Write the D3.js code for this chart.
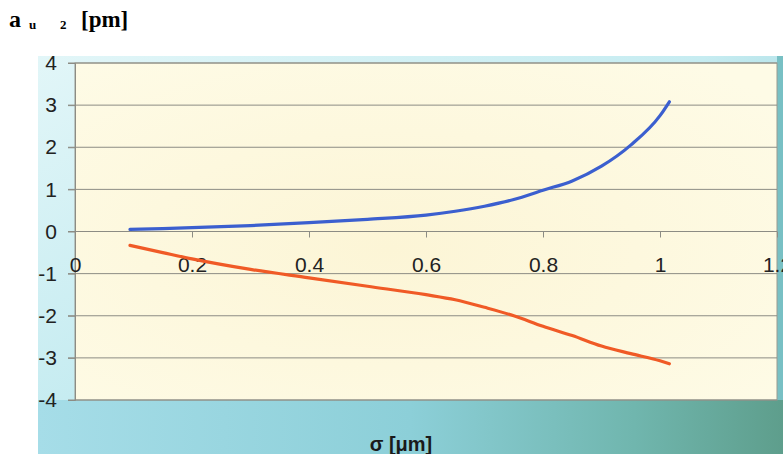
<!DOCTYPE html>
<html>
<head>
<meta charset="utf-8">
<script src="https://cdn.jsdelivr.net/npm/d3@7/dist/d3.min.js"></script>
<style>
  html, body { margin: 0; padding: 0; background: #ffffff; }
  svg { display: block; }
</style>
</head>
<body>
<div id="chart"></div>
<script>
// sigma values (µm) and the two coefficient curves (pm)
const sigma      = [0.094, 0.15, 0.2, 0.3, 0.4, 0.5, 0.6, 0.65, 0.7, 0.75, 0.8, 0.85, 0.9, 0.95, 1.0, 1.016];
const upperCurve = [0.05, 0.07, 0.09, 0.14, 0.21, 0.29, 0.39, 0.48, 0.6, 0.76, 0.98, 1.2, 1.55, 2.05, 2.75, 3.08];
const lowerCurve = [-0.33, -0.5, -0.65, -0.9, -1.1, -1.3, -1.5, -1.62, -1.8, -2.0, -2.25, -2.47, -2.72, -2.9, -3.07, -3.14];
const xTicks = [0, 0.2, 0.4, 0.6, 0.8, 1, 1.2];
const yTicks = [-4, -3, -2, -1, 0, 1, 2, 3, 4];

const W = 783, H = 454;
const plot = { left: 75, right: 777, top: 63, bottom: 400 };

const svg = d3.select("#chart").append("svg")
  .attr("width", W).attr("height", H);

const defs = svg.append("defs");
const bg = defs.append("linearGradient").attr("id", "bgGrad")
  .attr("x1", "0").attr("y1", "0").attr("x2", "1").attr("y2", "1");
bg.append("stop").attr("offset", "0%").attr("stop-color", "#e2f6f8");
bg.append("stop").attr("offset", "45%").attr("stop-color", "#c6ecf1");
bg.append("stop").attr("offset", "75%").attr("stop-color", "#86c9d2");
bg.append("stop").attr("offset", "100%").attr("stop-color", "#5a9c8a");

const bgBottom = defs.append("linearGradient").attr("id", "bgBottom")
  .attr("x1", "0").attr("y1", "0").attr("x2", "1").attr("y2", "0");
bgBottom.append("stop").attr("offset", "0%").attr("stop-color", "#a6dde8");
bgBottom.append("stop").attr("offset", "50%").attr("stop-color", "#8ccfd8");
bgBottom.append("stop").attr("offset", "80%").attr("stop-color", "#70b6ae");
bgBottom.append("stop").attr("offset", "100%").attr("stop-color", "#5e9e8c");

const plotGrad = defs.append("radialGradient").attr("id", "plotGrad")
  .attr("cx", "45%").attr("cy", "55%").attr("r", "70%");
plotGrad.append("stop").attr("offset", "0%").attr("stop-color", "#fcf5d6");
plotGrad.append("stop").attr("offset", "100%").attr("stop-color", "#fefbe6");

// chart backdrop
svg.append("rect").attr("x", 38).attr("y", 56).attr("width", W - 38).attr("height", H - 56)
  .attr("fill", "url(#bgGrad)");
svg.append("rect").attr("x", 38).attr("y", plot.bottom).attr("width", W - 38).attr("height", H - plot.bottom)
  .attr("fill", "url(#bgBottom)");
svg.append("rect").attr("x", plot.right).attr("y", 56).attr("width", W - plot.right).attr("height", plot.bottom - 56)
  .attr("fill", "#78c0c4");

const x = d3.scaleLinear().domain([0, 1.2]).range([plot.left, plot.right]);
const y = d3.scaleLinear().domain([-4, 4]).range([plot.bottom, plot.top]);

// plot area
svg.append("rect")
  .attr("x", plot.left).attr("y", plot.top)
  .attr("width", plot.right - plot.left).attr("height", plot.bottom - plot.top)
  .attr("fill", "url(#plotGrad)")
  .attr("stroke", "#9a9a90").attr("stroke-width", 1);

// horizontal gridlines
svg.append("g").selectAll("line").data(yTicks).join("line")
  .attr("x1", plot.left - 7).attr("x2", plot.right)
  .attr("y1", d => y(d)).attr("y2", d => y(d))
  .attr("stroke", "#8c8c84").attr("stroke-width", 1);

// y axis
const yAxis = d3.axisLeft(y).tickValues(yTicks).tickSize(7).tickPadding(11)
  .tickFormat(d => d < 0 ? "-" + Math.abs(d) : String(d));
const gy = svg.append("g").attr("transform", `translate(${plot.left},0)`).call(yAxis);
gy.select(".domain").attr("stroke", "#8c8c84");
gy.selectAll(".tick line").attr("stroke", "#8c8c84");
gy.selectAll("text").attr("font-family", "Liberation Sans, Arial, sans-serif")
  .attr("font-size", 21).attr("fill", "#222");

// x axis along the zero line
const xAxis = d3.axisBottom(x).tickValues(xTicks).tickSize(6).tickPadding(20)
  .tickFormat(d => String(d));
const gx = svg.append("g").attr("transform", `translate(0,${y(0)})`).call(xAxis);
gx.select(".domain").remove();
gx.selectAll(".tick line").attr("stroke", "#8c8c84");
gx.selectAll("text").attr("font-family", "Liberation Sans, Arial, sans-serif")
  .attr("font-size", 21).attr("fill", "#222");

// curves
const line = d3.line().curve(d3.curveMonotoneX);
const series = [
  { values: upperCurve, color: "#3b5fcf" },
  { values: lowerCurve, color: "#f05a26" }
];
svg.append("g").selectAll("path").data(series).join("path")
  .attr("d", s => line(sigma.map((v, i) => [x(v), y(s.values[i])])))
  .attr("fill", "none")
  .attr("stroke", s => s.color)
  .attr("stroke-width", 3.2)
  .attr("stroke-linecap", "round");

// axis title
svg.append("text")
  .attr("x", 401).attr("y", 451)
  .attr("text-anchor", "middle")
  .attr("font-family", "Liberation Sans, Arial, sans-serif")
  .attr("font-weight", "bold").attr("font-size", 20).attr("fill", "#1a1a1a")
  .text("σ [μm]");

// quantity label
const title = svg.append("text")
  .attr("x", 9).attr("y", 27)
  .attr("font-family", "Liberation Serif, Times New Roman, serif")
  .attr("font-weight", "bold").attr("fill", "#000");
title.append("tspan").attr("font-size", 24).text("a");
title.append("tspan").attr("x", 29).attr("y", 29).attr("font-size", 13).text("u");
title.append("tspan").attr("x", 60).attr("y", 29).attr("font-size", 13).text("2");
title.append("tspan").attr("x", 81).attr("y", 27).attr("font-size", 23).text("[pm]");
</script>
</body>
</html>
